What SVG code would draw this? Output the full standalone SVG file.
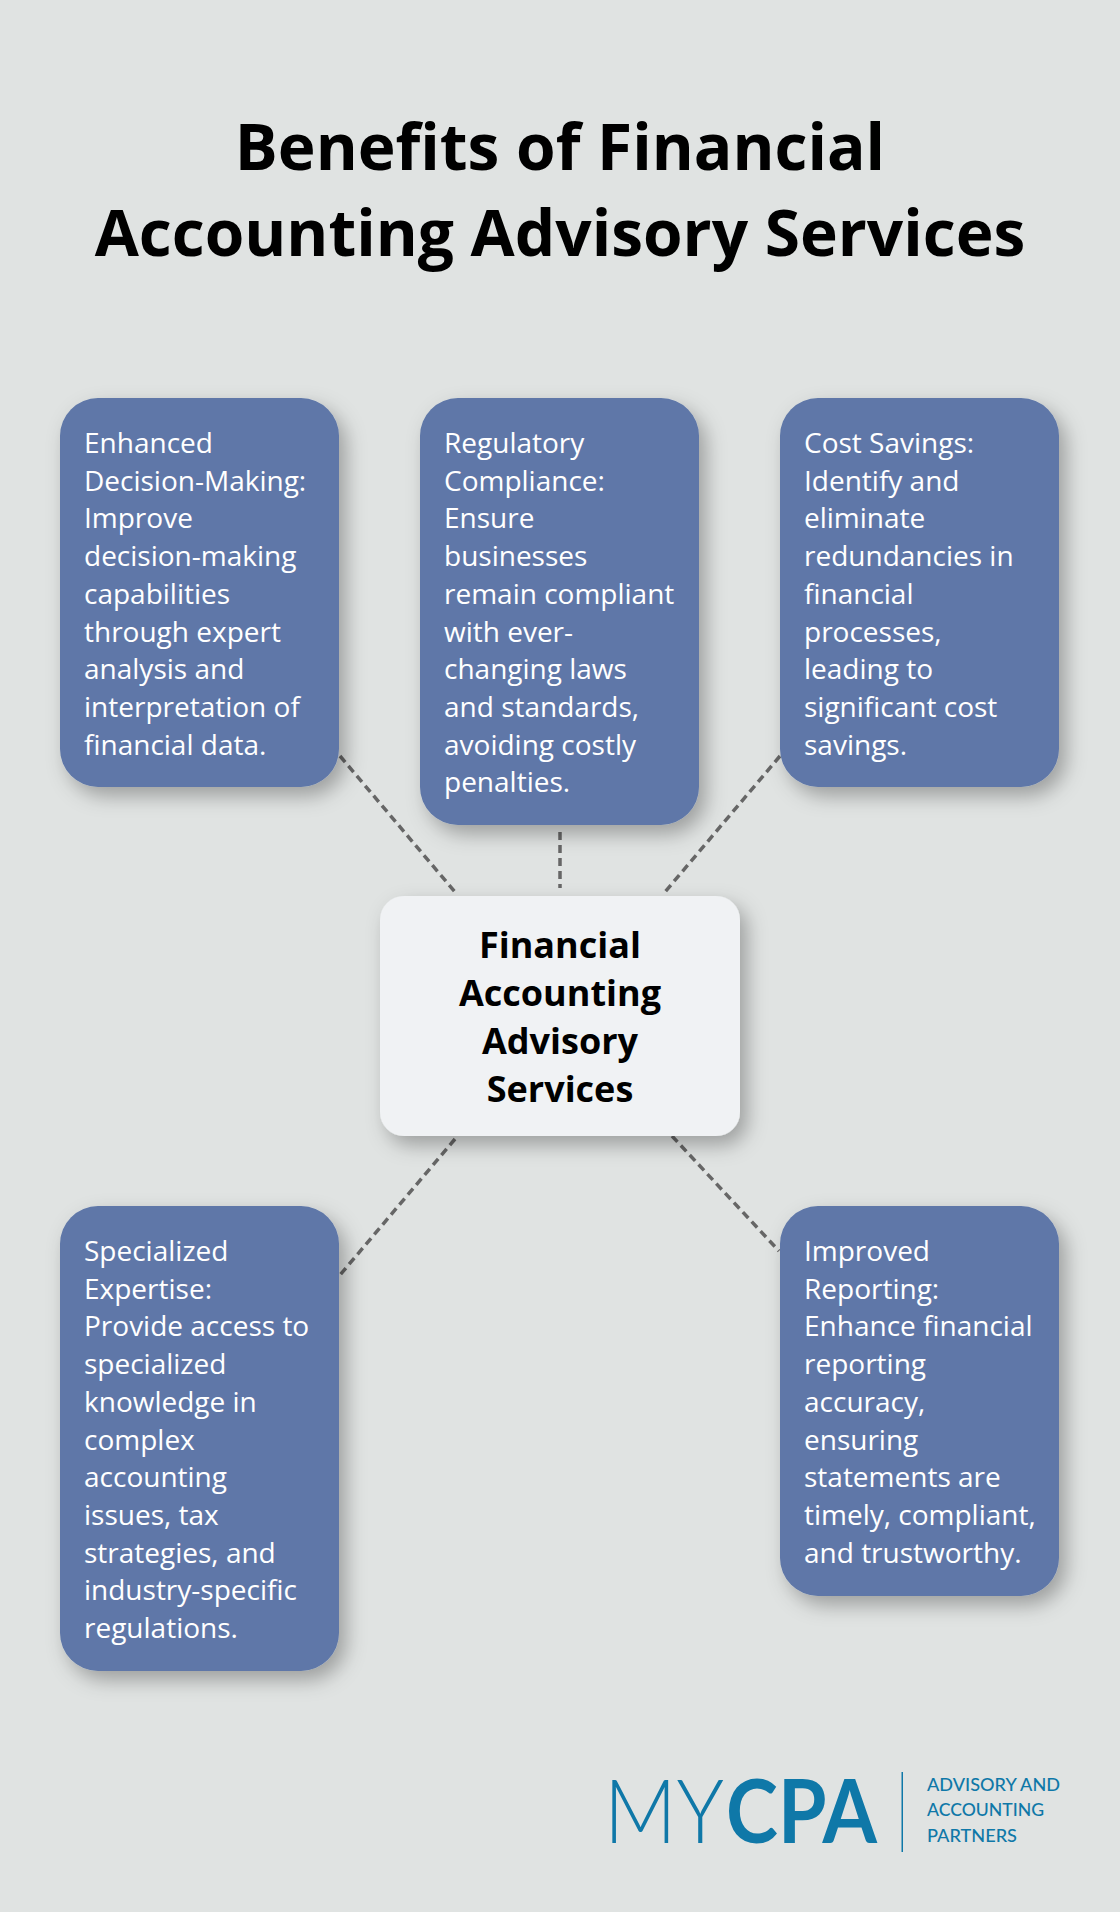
<svg xmlns="http://www.w3.org/2000/svg" width="1120" height="1912" viewBox="0 0 1120 1912">
  <defs>
    <filter id="shadow" x="-25%" y="-25%" width="160%" height="160%">
      <feDropShadow dx="7" dy="9" stdDeviation="10" flood-color="#000" flood-opacity="0.3"/>
    </filter>
    <style>
      .bg { fill: #e0e3e2; }
      .title { font-family: "Open Sans", "Liberation Sans", sans-serif; font-weight: 700; font-size: 64px; fill: #000; text-anchor: middle; }
      .box { fill: #5e77a8; filter: url(#shadow); }
      .center { fill: #f0f2f4; filter: url(#shadow); }
      .btxt { font-family: "Open Sans", "Liberation Sans", sans-serif; font-size: 28px; fill: #ffffff; }
      .ctxt { font-family: "Open Sans", "Liberation Sans", sans-serif; font-weight: 700; font-size: 36px; fill: #000; text-anchor: middle; }
      .conn { stroke: #666666; stroke-width: 3.5; stroke-dasharray: 8 5; fill: none; }
      .logo { fill: #0f78a8; }
      .logo-thin { font-family: Lato, Roboto, "Liberation Sans", sans-serif; font-weight: 300; font-size: 88px; }
      .logo-bold { font-family: Lato, Roboto, "Liberation Sans", sans-serif; font-weight: 700; font-size: 88px; }
      .logo-small { font-family: Lato, Roboto, "Liberation Sans", sans-serif; font-weight: 500; font-size: 17px; }
    </style>
  </defs>
  <rect class="bg" x="0" y="0" width="1120" height="1912"/>

  <g id="title">
    <text class="title" x="560" y="170">Benefits of Financial</text>
    <text class="title" x="560" y="256">Accounting Advisory Services</text>
  </g>

  <g id="connectors">
    <line class="conn" x1="340" y1="756" x2="455" y2="892"/>
    <line class="conn" x1="560" y1="832" x2="560" y2="888"/>
    <line class="conn" x1="780" y1="756" x2="665" y2="892"/>
    <line class="conn" x1="455" y1="1139" x2="340" y2="1275"/>
    <line class="conn" x1="672" y1="1136" x2="779" y2="1251"/>
  </g>

  <g id="node-decision">
    <rect class="box" x="60" y="398" width="279" height="389" rx="38"/>
    <text class="btxt" x="84" y="453">
      <tspan x="84" dy="0">Enhanced</tspan>
      <tspan x="84" dy="37.7">Decision-Making:</tspan>
      <tspan x="84" dy="37.7">Improve</tspan>
      <tspan x="84" dy="37.7">decision-making</tspan>
      <tspan x="84" dy="37.7">capabilities</tspan>
      <tspan x="84" dy="37.7">through expert</tspan>
      <tspan x="84" dy="37.7">analysis and</tspan>
      <tspan x="84" dy="37.7">interpretation of</tspan>
      <tspan x="84" dy="37.7">financial data.</tspan>
    </text>
  </g>

  <g id="node-compliance">
    <rect class="box" x="420" y="398" width="279" height="427" rx="38"/>
    <text class="btxt" x="444" y="453">
      <tspan x="444" dy="0">Regulatory</tspan>
      <tspan x="444" dy="37.7">Compliance:</tspan>
      <tspan x="444" dy="37.7">Ensure</tspan>
      <tspan x="444" dy="37.7">businesses</tspan>
      <tspan x="444" dy="37.7">remain compliant</tspan>
      <tspan x="444" dy="37.7">with ever-</tspan>
      <tspan x="444" dy="37.7">changing laws</tspan>
      <tspan x="444" dy="37.7">and standards,</tspan>
      <tspan x="444" dy="37.7">avoiding costly</tspan>
      <tspan x="444" dy="37.7">penalties.</tspan>
    </text>
  </g>

  <g id="node-cost">
    <rect class="box" x="780" y="398" width="279" height="389" rx="38"/>
    <text class="btxt" x="804" y="453">
      <tspan x="804" dy="0">Cost Savings:</tspan>
      <tspan x="804" dy="37.7">Identify and</tspan>
      <tspan x="804" dy="37.7">eliminate</tspan>
      <tspan x="804" dy="37.7">redundancies in</tspan>
      <tspan x="804" dy="37.7">financial</tspan>
      <tspan x="804" dy="37.7">processes,</tspan>
      <tspan x="804" dy="37.7">leading to</tspan>
      <tspan x="804" dy="37.7">significant cost</tspan>
      <tspan x="804" dy="37.7">savings.</tspan>
    </text>
  </g>

  <g id="node-center">
    <rect class="center" x="380" y="896" width="360" height="240" rx="24"/>
    <text class="ctxt" x="560" y="958">Financial</text>
    <text class="ctxt" x="560" y="1006">Accounting</text>
    <text class="ctxt" x="560" y="1054">Advisory</text>
    <text class="ctxt" x="560" y="1102">Services</text>
  </g>

  <g id="node-expertise">
    <rect class="box" x="60" y="1206" width="279" height="465" rx="38"/>
    <text class="btxt" x="84" y="1261">
      <tspan x="84" dy="0">Specialized</tspan>
      <tspan x="84" dy="37.7">Expertise:</tspan>
      <tspan x="84" dy="37.7">Provide access to</tspan>
      <tspan x="84" dy="37.7">specialized</tspan>
      <tspan x="84" dy="37.7">knowledge in</tspan>
      <tspan x="84" dy="37.7">complex</tspan>
      <tspan x="84" dy="37.7">accounting</tspan>
      <tspan x="84" dy="37.7">issues, tax</tspan>
      <tspan x="84" dy="37.7">strategies, and</tspan>
      <tspan x="84" dy="37.7">industry-specific</tspan>
      <tspan x="84" dy="37.7">regulations.</tspan>
    </text>
  </g>

  <g id="node-reporting">
    <rect class="box" x="780" y="1206" width="279" height="390" rx="38"/>
    <text class="btxt" x="804" y="1261">
      <tspan x="804" dy="0">Improved</tspan>
      <tspan x="804" dy="37.7">Reporting:</tspan>
      <tspan x="804" dy="37.7">Enhance financial</tspan>
      <tspan x="804" dy="37.7">reporting</tspan>
      <tspan x="804" dy="37.7">accuracy,</tspan>
      <tspan x="804" dy="37.7">ensuring</tspan>
      <tspan x="804" dy="37.7">statements are</tspan>
      <tspan x="804" dy="37.7">timely, compliant,</tspan>
      <tspan x="804" dy="37.7">and trustworthy.</tspan>
    </text>
  </g>

  <g id="logo">
    <text class="logo logo-thin" x="604" y="1843" textLength="120" lengthAdjust="spacingAndGlyphs">MY</text>
    <text class="logo logo-bold" x="726" y="1843" textLength="151" lengthAdjust="spacingAndGlyphs">CPA</text>
    <rect class="logo" x="901.5" y="1772" width="1.5" height="80"/>
    <text class="logo logo-small" x="927" y="1791" textLength="133" lengthAdjust="spacingAndGlyphs">ADVISORY AND</text>
    <text class="logo logo-small" x="927" y="1816" textLength="117" lengthAdjust="spacingAndGlyphs">ACCOUNTING</text>
    <text class="logo logo-small" x="927" y="1842" textLength="90" lengthAdjust="spacingAndGlyphs">PARTNERS</text>
  </g>
</svg>
